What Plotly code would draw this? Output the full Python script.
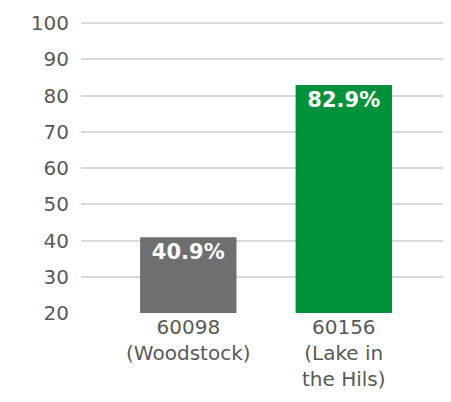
import plotly.graph_objects as go

categories = ["60098<br>(Woodstock)", "60156<br>(Lake in<br>the Hils)"]
values = [40.9, 82.9]
labels = ["40.9%", "82.9%"]
colors = ["#6d6f71", "#00923a"]

fig = go.Figure(go.Bar(
    x=[0, 1], y=values, marker=dict(color=colors, line=dict(width=0)),
    width=0.62, text=labels, textposition="inside", insidetextanchor="end",
    textfont=dict(color="white", size=21, family="DejaVu Sans", weight="bold"),
    cliponaxis=False,
))
fig.update_layout(
    width=451, height=402, margin=dict(l=73, r=0, t=14, b=97, autoexpand=False),
    plot_bgcolor="white", paper_bgcolor="white", showlegend=False,
    font=dict(family="DejaVu Sans", color="#595959", size=20),
    uniformtext=dict(mode=False),
)
fig.update_xaxes(range=[-0.69, 1.741], tickvals=[0, 1], ticktext=categories,
                 showgrid=False, zeroline=False, showline=False, ticks="",
                 automargin=False,
                 tickfont=dict(size=20, color="#595959"))
fig.update_yaxes(range=[20, 100.3], tickvals=list(range(20, 101, 10)),
                 showgrid=True, gridcolor="#d9d9d9", gridwidth=1.5,
                 zeroline=False, showline=False, ticks="", ticklabelstandoff=11,
                 automargin=False,
                 tickfont=dict(size=20, color="#595959"))
fig.write_html("out.html")
